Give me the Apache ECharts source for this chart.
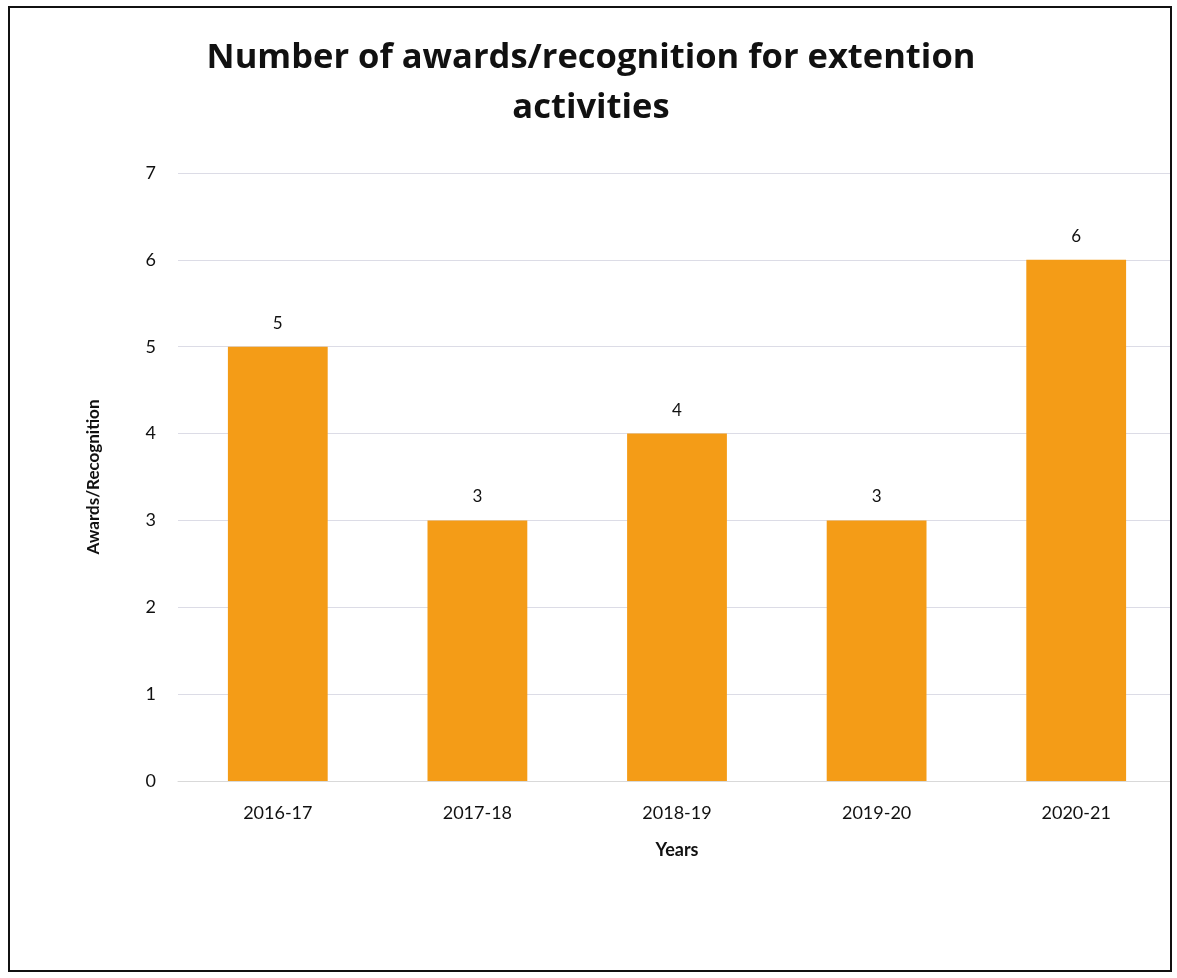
<!DOCTYPE html>
<html><head><meta charset="utf-8">
<script src="https://cdn.jsdelivr.net/npm/echarts@6/dist/echarts.min.js"></script>
<style>
html,body{margin:0;padding:0;background:#fff;}
#frame{position:absolute;left:8px;top:6px;width:1160px;height:962px;border:2px solid #111;overflow:hidden;}
#chart{position:absolute;left:-10px;top:-8px;width:1177px;height:978px;}
</style></head>
<body>
<div id="frame"><div id="chart"></div></div>
<script>
const categories = ['2016-17','2017-18','2018-19','2019-20','2020-21'];
const awards = [5, 3, 4, 3, 6];
const yTicks = [0,1,2,3,4,5,6,7];

const chart = echarts.init(document.getElementById('chart'));
chart.setOption({
  animation:false,
  backgroundColor:'#fff',
  title:{
    text:'Number of awards/recognition for extention\nactivities',
    left:586, top:28, textAlign:'center',
    textStyle:{fontFamily:'Open Sans', fontWeight:'bold', fontSize:34.5, lineHeight:50, color:'#111'}
  },
  grid:{left:178, top:173, width:998, height:608, containLabel:false},
  xAxis:{
    type:'category', data:categories,
    name:'Years', nameLocation:'middle', nameGap:60,
    nameTextStyle:{fontFamily:'Lato', fontWeight:'bold', fontSize:18, color:'#111'},
    axisLine:{show:true, lineStyle:{color:'#d9d9d9'}},
    axisTick:{show:false},
    axisLabel:{fontFamily:'Lato', fontSize:18, color:'#111', margin:23}
  },
  yAxis:{
    type:'value', min:yTicks[0], max:yTicks[yTicks.length-1], interval:1,
    name:'Awards/Recognition', nameLocation:'middle', nameGap:76, nameRotate:90,
    nameTextStyle:{fontFamily:'Lato', fontWeight:'bold', fontSize:17, color:'#111'},
    axisLine:{show:false}, axisTick:{show:false},
    axisLabel:{fontFamily:'Lato', fontSize:18, color:'#111', margin:22},
    splitLine:{lineStyle:{color:'#dcdce6', width:1}}
  },
  series:[{
    type:'bar', data:awards, barCategoryGap:'50%',
    itemStyle:{color:'#F49C17'},
    label:{show:true, position:'top', distance:15, fontFamily:'Lato', fontSize:17, color:'#111'}
  }]
});
</script>
</body></html>
